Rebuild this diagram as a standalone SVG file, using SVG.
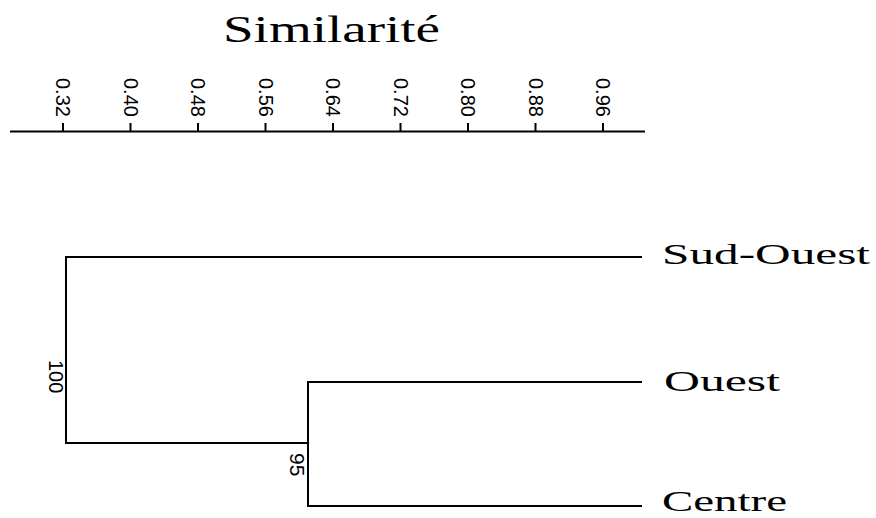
<svg xmlns="http://www.w3.org/2000/svg" width="876" height="518" viewBox="0 0 876 518">
<style>
.ln{stroke:#000;stroke-width:2;fill:none}
.tk{font-family:"Liberation Sans",Arial,sans-serif;font-size:20px;fill:#000}
.lb{font-family:"Liberation Serif","Times New Roman",serif;font-size:30px;fill:#000}
.tt{font-family:"Liberation Serif","Times New Roman",serif;font-size:37px;fill:#000}
</style>
<rect width="876" height="518" fill="#fff"/>
<text class="tt" x="223" y="42" textLength="217" lengthAdjust="spacingAndGlyphs">Similarité</text>
<g id="axis">
<path class="ln" d="M10 131.5H645M63 123V131M130.5 123V131M198 123V131M265.5 123V131M333 123V131M400.5 123V131M468 123V131M535.5 123V131M603 123V131"/>
<text class="tk" transform="translate(56 78) rotate(90)">0.32</text>
<text class="tk" transform="translate(123.5 78) rotate(90)">0.40</text>
<text class="tk" transform="translate(191 78) rotate(90)">0.48</text>
<text class="tk" transform="translate(258.5 78) rotate(90)">0.56</text>
<text class="tk" transform="translate(326 78) rotate(90)">0.64</text>
<text class="tk" transform="translate(393.5 78) rotate(90)">0.72</text>
<text class="tk" transform="translate(461 78) rotate(90)">0.80</text>
<text class="tk" transform="translate(528.5 78) rotate(90)">0.88</text>
<text class="tk" transform="translate(596 78) rotate(90)">0.96</text>
</g>
<g id="connectors">
<path class="ln" d="M642 257H66V443H308"/>
<path class="ln" d="M642 382H308V506H642"/>
</g>
<g id="node-sud-ouest"><text class="lb" x="662" y="264" textLength="208" lengthAdjust="spacingAndGlyphs">Sud-Ouest</text></g>
<g id="node-ouest"><text class="lb" x="664" y="391" textLength="116" lengthAdjust="spacingAndGlyphs">Ouest</text></g>
<g id="node-centre"><text class="lb" x="662" y="511" textLength="125" lengthAdjust="spacingAndGlyphs">Centre</text></g>
<g id="node-100"><text class="tk" transform="translate(49 360) rotate(90)">100</text></g>
<g id="node-95"><text class="tk" transform="translate(290 453) rotate(90)" style="font-size:21px">95</text></g>
</svg>
